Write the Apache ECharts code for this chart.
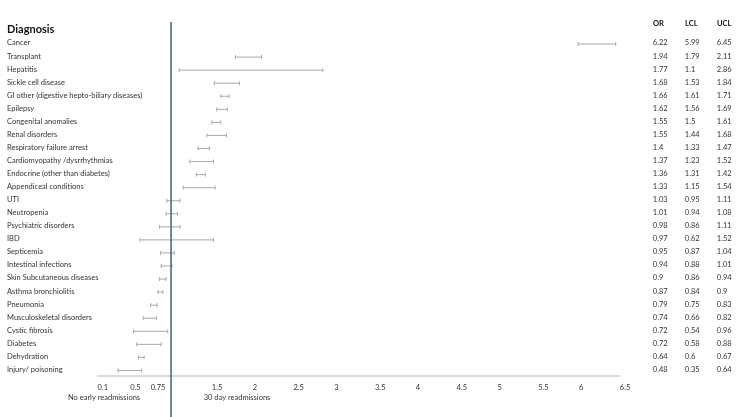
<!DOCTYPE html>
<html>
<head>
<meta charset="utf-8">
<script src="https://cdn.jsdelivr.net/npm/echarts@6/dist/echarts.min.js"></script>
<style>
  html, body { margin: 0; padding: 0; background: #fff; }
  #forest { width: 750px; height: 417px; }
</style>
</head>
<body>
<div id="forest"></div>
<script>
// diagnosis rows, top to bottom
const diagnoses = [
  'Cancer', 'Transplant', 'Hepatitis', 'Sickle cell disease',
  'GI other (digestive hepto-biliary diseases)', 'Epilepsy', 'Congenital anomalies',
  'Renal disorders', 'Respiratory failure arrest', 'Cardiomyopathy /dysrrhythmias',
  'Endocrine (other than diabetes)', 'Appendiceal conditions', 'UTI', 'Neutropenia',
  'Psychiatric disorders', 'IBD', 'Septicemia', 'Intestinal infections',
  'Skin Subcutaneous diseases', 'Asthma bronchiolitis', 'Pneumonia',
  'Musculoskeletal disorders', 'Cystic fibrosis', 'Diabetes', 'Dehydration',
  'Injury/ poisoning'
];
const oddsRatio = [6.22, 1.94, 1.77, 1.68, 1.66, 1.62, 1.55, 1.55, 1.4, 1.37, 1.36, 1.33, 1.03,
  1.01, 0.98, 0.97, 0.95, 0.94, 0.9, 0.87, 0.79, 0.74, 0.72, 0.72, 0.64, 0.48];
const lowerCL = [5.99, 1.79, 1.1, 1.53, 1.61, 1.56, 1.5, 1.44, 1.33, 1.23, 1.31, 1.15, 0.95,
  0.94, 0.86, 0.62, 0.87, 0.88, 0.86, 0.84, 0.75, 0.66, 0.54, 0.58, 0.6, 0.35];
const upperCL = [6.45, 2.11, 2.86, 1.84, 1.71, 1.69, 1.61, 1.68, 1.47, 1.52, 1.42, 1.54, 1.11,
  1.08, 1.11, 1.52, 1.04, 1.01, 0.94, 0.9, 0.83, 0.82, 0.96, 0.88, 0.67, 0.64];
const tickValues = [0.1, 0.5, 0.75, 1.5, 2, 2.5, 3, 3.5, 4, 4.5, 5, 5.5, 6, 6.5];
const refValue = 1;

const FONT = 'Lato';
const txt = '#333';

const chart = echarts.init(document.getElementById('forest'), null, { renderer: 'canvas' });

const ciData = diagnoses.map((d, i) => [i, lowerCL[i], upperCL[i]]);

// right side columns as extra category axes
function columnAxis(values, margin) {
  return {
    type: 'category',
    position: 'right',
    inverse: true,
    data: values.map(v => String(v)),
    axisLine: { show: false },
    axisTick: { show: false },
    axisLabel: { align: 'left', margin: margin, fontFamily: FONT, fontSize: 7.5, color: txt }
  };
}

const option = {
  animation: false,
  grid: { left: 97.6, right: 130.2, top: 36.5, bottom: 41, containLabel: false },
  xAxis: {
    type: 'value',
    min: 0.1,
    max: 6.5,
    axisLine: { show: true, lineStyle: { color: '#dcdcdc', width: 2 } },
    axisTick: { show: false },
    splitLine: { show: false },
    axisLabel: {
      customValues: tickValues,
      align: 'left',
      margin: 8,
      fontFamily: FONT,
      fontSize: 7.5,
      color: txt,
      formatter: v => String(v)
    }
  },
  yAxis: [
    {
      type: 'category',
      inverse: true,
      data: diagnoses,
      axisLine: { show: false },
      axisTick: { show: false },
      axisLabel: { align: 'left', margin: 90.6, fontFamily: FONT, fontSize: 7.5, color: txt }
    },
    columnAxis(oddsRatio, 33),
    columnAxis(lowerCL, 65),
    columnAxis(upperCL, 97)
  ],
  graphic: [
    { type: 'text', left: 7, top: 24, style: { text: 'Diagnosis', font: 'bold 11px Lato', fill: '#111' } },
    { type: 'text', left: 653, top: 20, style: { text: 'OR', font: 'bold 7.5px Lato', fill: '#111' } },
    { type: 'text', left: 685, top: 20, style: { text: 'LCL', font: 'bold 7.5px Lato', fill: '#111' } },
    { type: 'text', left: 717, top: 20, style: { text: 'UCL', font: 'bold 7.5px Lato', fill: '#111' } },
    { type: 'text', x: 104, y: 398, style: { text: 'No early readmissions', font: '7.5px Lato', fill: txt, align: 'center', verticalAlign: 'middle' } },
    { type: 'text', x: 237, y: 398, style: { text: '30 day readmissions', font: '7.5px Lato', fill: txt, align: 'center', verticalAlign: 'middle' } }
  ],
  series: [
    {
      type: 'custom',
      name: 'CI',
      data: ciData,
      encode: { x: [1, 2], y: 0 },
      renderItem: function (params, api) {
        const idx = api.value(0);
        const a = api.coord([api.value(1), idx]);
        const b = api.coord([api.value(2), idx]);
        const y = a[1] + 1;
        const st = { stroke: '#a8a8a8', lineWidth: 1 };
        return {
          type: 'group',
          children: [
            { type: 'line', shape: { x1: a[0], y1: y, x2: b[0], y2: y }, style: st },
            { type: 'line', shape: { x1: a[0], y1: y - 2, x2: a[0], y2: y + 2 }, style: st },
            { type: 'line', shape: { x1: b[0], y1: y - 2, x2: b[0], y2: y + 2 }, style: st }
          ]
        };
      }
    },
    {
      type: 'custom',
      name: 'ref',
      data: [[refValue, 0]],
      encode: { x: 0, y: 1 },
      z: 5,
      renderItem: function (params, api) {
        const x = api.coord([api.value(0), 0])[0];
        return {
          type: 'line',
          shape: { x1: x, y1: 22, x2: x, y2: 417 },
          style: { stroke: '#3a566e', lineWidth: 1.4 }
        };
      }
    }
  ]
};

chart.setOption(option);
</script>
</body>
</html>
